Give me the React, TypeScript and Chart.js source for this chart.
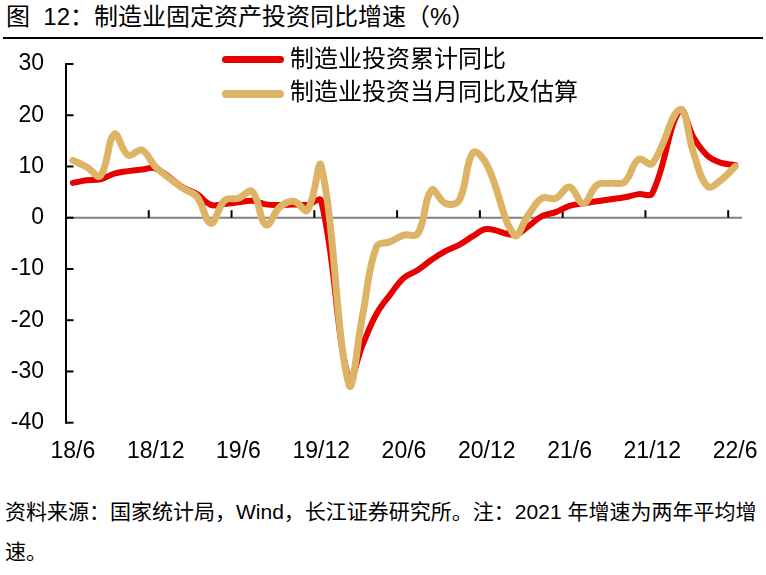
import React, { useEffect, useRef } from "react";
import { Chart, registerables } from "chart.js";

Chart.register(...registerables);

// ---- data ----
const months: string[] = [
  "18/6", "18/7", "18/8", "18/9", "18/10", "18/11", "18/12",
  "19/1", "19/2", "19/3", "19/4", "19/5", "19/6", "19/7", "19/8", "19/9", "19/10", "19/11", "19/12",
  "20/1", "20/2", "20/3", "20/4", "20/5", "20/6", "20/7", "20/8", "20/9", "20/10", "20/11", "20/12",
  "21/1", "21/2", "21/3", "21/4", "21/5", "21/6", "21/7", "21/8", "21/9", "21/10", "21/11", "21/12",
  "22/1", "22/2", "22/3", "22/4", "22/5", "22/6",
];

const tickLabels: string[] = ["18/6", "18/12", "19/6", "19/12", "20/6", "20/12", "21/6", "21/12", "22/6"];

// 制造业投资累计同比
const cumulative: (number | null)[] = [
  6.8, 7.3, 7.5, 8.6, 9.1, 9.4, 9.6,
  null, 5.9, 4.6, 2.5, 2.7, 3.0, 3.3, 2.6, 2.5, 2.6, 2.5, 3.3,
  null, -31.5, -24.8, -18.8, -15.0, -11.7, -10.2, -8.2, -6.5, -5.3, -3.6, -2.2,
  null, -3.3, -1.7, 0.3, 1.1, 2.3, 2.8, 3.2, 3.6, 4.0, 4.6, 4.8,
  null, 21.0, 15.6, 12.1, 10.7, 10.3,
];

// 制造业投资当月同比及估算
const monthly: (number | null)[] = [
  11.2, 9.9, 8.2, 16.3, 12.2, 13.2, 9.9,
  null, 5.7, 4.1, -1.1, 3.4, 3.8, 5.1, -1.4, 2.1, 3.2, 1.5, 10.1,
  null, -32.5, -19.0, -5.7, -4.7, -3.4, -3.1, 5.4, 2.8, 3.4, 12.7, 10.4,
  null, -3.4, 0.5, 3.8, 3.8, 6.0, 2.8, 6.4, 6.7, 7.0, 11.4, 10.6,
  null, 21.1, 12.5, 6.1, 7.4, 10.0,
];

const yTicks: number[] = [30, 20, 10, 0, -10, -20, -30, -40];

const seriesNames = ["制造业投资累计同比", "制造业投资当月同比及估算"];
const seriesColors = ["#E60000", "#DDB466"];

const FONT = "'Liberation Sans', Arial, 'Noto Sans CJK SC', sans-serif";

const axisPlugin = {
  id: "excelAxes",
  beforeDatasetsDraw(chart: any) {
    const { ctx, chartArea, scales } = chart;
    const xs = scales.x;
    const ys = scales.y;
    const y0 = ys.getPixelForValue(0);
    const step = xs.getPixelForValue(1) - xs.getPixelForValue(0);
    ctx.save();
    ctx.lineCap = "butt";
    // zero line (category axis)
    ctx.strokeStyle = "#808080";
    ctx.lineWidth = 2;
    ctx.beginPath();
    ctx.moveTo(chartArea.left, y0);
    ctx.lineTo(chartArea.right, y0);
    ctx.stroke();
    // category tick marks
    ctx.strokeStyle = "#000";
    ctx.lineWidth = 2;
    months.forEach((m, i) => {
      if (i > 0 && tickLabels.includes(m)) {
        const px = xs.getPixelForValue(i) - step / 2;
        ctx.beginPath();
        ctx.moveTo(px, y0);
        ctx.lineTo(px, y0 - 7.5);
        ctx.stroke();
      }
    });
    // value axis
    const top = ys.getPixelForValue(yTicks[0]);
    const bottom = ys.getPixelForValue(yTicks[yTicks.length - 1]);
    ctx.beginPath();
    ctx.moveTo(chartArea.left, top - 1);
    ctx.lineTo(chartArea.left, bottom + 1);
    ctx.stroke();
    yTicks.forEach((v) => {
      const py = ys.getPixelForValue(v);
      ctx.beginPath();
      ctx.moveTo(chartArea.left, py);
      ctx.lineTo(chartArea.left + 7.5, py);
      ctx.stroke();
    });
    ctx.restore();
  },
};

export default function App() {
  const ref = useRef<HTMLCanvasElement>(null);

  useEffect(() => {
    if (!ref.current) return;
    const chart = new Chart(ref.current, {
      type: "line",
      data: {
        labels: months,
        datasets: [
          {
            label: seriesNames[0],
            data: cumulative,
            borderColor: seriesColors[0],
            backgroundColor: seriesColors[0],
            borderWidth: 6,
            pointRadius: 0,
            tension: 0.4,
            spanGaps: true,
            borderCapStyle: "round",
            borderJoinStyle: "round",
            order: 1,
          },
          {
            label: seriesNames[1],
            data: monthly,
            borderColor: seriesColors[1],
            backgroundColor: seriesColors[1],
            borderWidth: 7,
            pointRadius: 0,
            tension: 0.4,
            spanGaps: true,
            borderCapStyle: "round",
            borderJoinStyle: "round",
            order: 0,
          },
        ],
      },
      options: {
        animation: false,
        responsive: false,
        devicePixelRatio: 1,
        layout: { padding: { top: 64, right: 24, left: 0, bottom: 0 } },
        plugins: {
          legend: { display: false },
          tooltip: { enabled: false },
          title: { display: false },
        },
        scales: {
          x: {
            type: "category",
            offset: true,
            grid: { display: false },
            border: { display: false },
            ticks: {
              autoSkip: false,
              maxRotation: 0,
              minRotation: 0,
              padding: 7,
              color: "#000",
              font: { family: FONT, size: 23 },
              callback: (_v: any, i: number) => (tickLabels.includes(months[i]) ? months[i] : ""),
            },
            afterFit: (s: any) => {
              s.height = 57.3;
            },
          },
          y: {
            min: -40,
            max: 30,
            grid: { display: false },
            border: { display: false },
            ticks: {
              stepSize: 10,
              padding: 14,
              color: "#000",
              font: { family: FONT, size: 23 },
            },
            afterFit: (s: any) => {
              s.width = 66;
            },
          },
        },
      },
      plugins: [axisPlugin],
    } as any);
    return () => chart.destroy();
  }, []);

  return (
    <div
      style={{
        position: "fixed",
        left: 0,
        top: 0,
        width: 766,
        height: 575,
        background: "#fff",
        color: "#000",
        fontFamily: FONT,
        overflow: "hidden",
      }}
    >
      <div style={{ position: "absolute", left: 6, top: 5, fontSize: 24, lineHeight: "24px", whiteSpace: "pre" }}>
        图  12：制造业固定资产投资同比增速（%）
      </div>
      <div style={{ position: "absolute", left: 3, top: 37, width: 760, height: 1.5, background: "#000" }} />
      <canvas
        ref={ref}
        width={766}
        height={480}
        style={{ position: "absolute", left: 0, top: 0, width: 766, height: 480 }}
      />
      {seriesNames.map((name, k) => (
        <React.Fragment key={name}>
          <div
            style={{
              position: "absolute",
              left: 222,
              top: (k === 0 ? 59 : 94) - (k === 0 ? 3.5 : 4),
              width: 62,
              height: k === 0 ? 7 : 8,
              borderRadius: 4,
              background: seriesColors[k],
            }}
          />
          <div
            style={{
              position: "absolute",
              left: 290,
              top: k === 0 ? 46.5 : 80,
              fontSize: 24,
              lineHeight: "24px",
              whiteSpace: "nowrap",
            }}
          >
            {name}
          </div>
        </React.Fragment>
      ))}
      <div style={{ position: "absolute", left: 5, top: 492, fontSize: 21, lineHeight: "40px", whiteSpace: "nowrap" }}>
        <div>资料来源：国家统计局，Wind，长江证券研究所。注：2021 年增速为两年平均增</div>
        <div>速。</div>
      </div>
    </div>
  );
}
